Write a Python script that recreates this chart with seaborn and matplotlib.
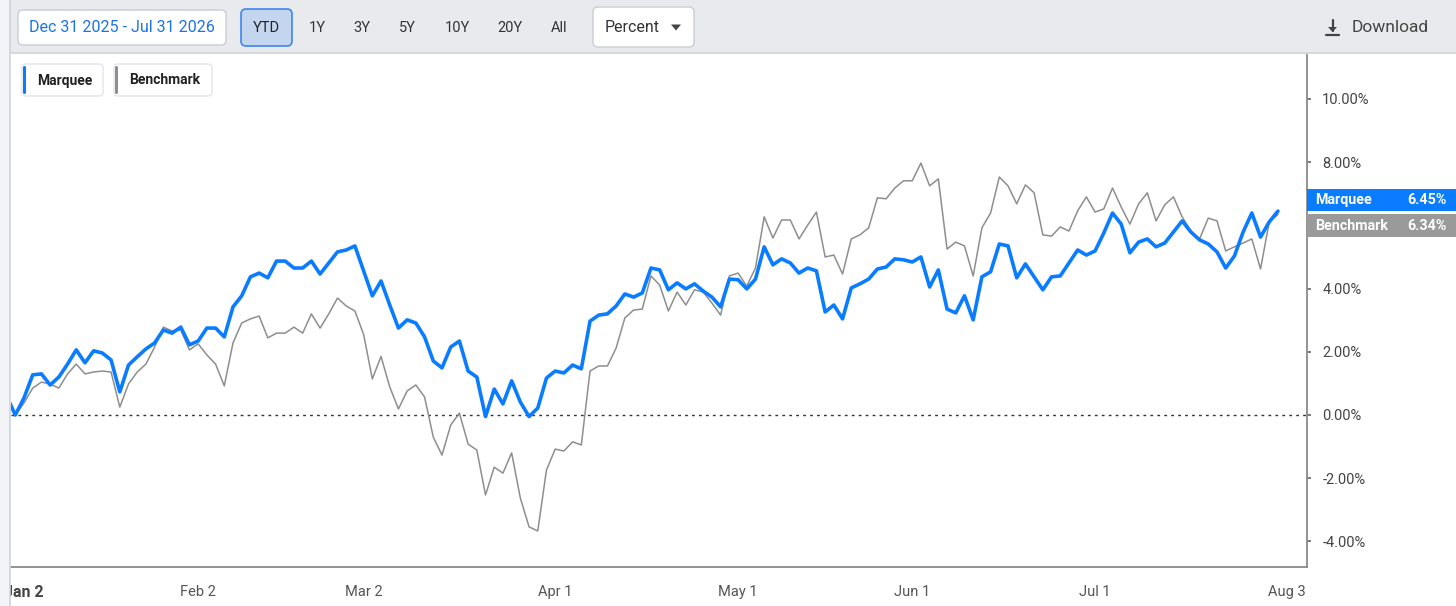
import numpy as np
import pandas as pd
import matplotlib
matplotlib.use("Agg")
import matplotlib.pyplot as plt
import matplotlib.transforms as mtrans
from matplotlib.patches import FancyBboxPatch, Rectangle, Polygon
from matplotlib.lines import Line2D
import seaborn as sns

# ---------------- data ----------------
start_date = "2025-12-30"
axis_end_date = "2026-08-03"
holidays = ["2026-01-01", "2026-01-19", "2026-02-16", "2026-04-03",
            "2026-05-25", "2026-06-19", "2026-07-03"]

marquee = [
    0.60, 0.00,
    0.54, 1.27, 1.30, 0.95, 1.20, 1.61, 2.06, 1.65, 2.03, 1.96,
    1.74, 0.73, 1.58, 1.84, 2.09, 2.28, 2.69, 2.59, 2.78, 2.22,
    2.34, 2.75, 2.75, 2.47, 3.42, 3.77, 4.37, 4.49, 4.34, 4.87,
    4.87, 4.65, 4.65, 4.87, 4.46, 4.81, 5.16, 5.22, 5.35, 4.56,
    3.77, 4.24, 3.48, 2.75, 3.01, 2.91, 2.47, 1.71, 1.49, 2.15,
    2.34, 1.39, 1.20, -0.05, 0.82, 0.35, 1.08, 0.41, -0.05, 0.22,
    1.17, 1.39, 1.33, 1.58, 1.46, 2.97, 3.16, 3.20, 3.45, 3.83,
    3.73, 3.86, 4.65, 4.59, 3.96, 4.18, 3.99, 4.15, 3.92, 3.73,
    3.42, 4.30, 4.28, 3.99, 4.30, 5.32, 4.75, 4.94, 4.81, 4.49,
    4.65, 4.56, 3.26, 3.48, 3.04, 4.02, 4.15, 4.30, 4.62, 4.68,
    4.94, 4.91, 4.84, 5.00, 4.05, 4.59, 3.35, 3.23, 3.77, 3.01,
    4.37, 4.53, 5.41, 5.35, 4.34, 4.78, 4.37, 3.96, 4.37, 4.40,
    4.81, 5.22, 5.06, 5.19, 5.76, 6.39, 6.04, 5.13, 5.47, 5.57,
    5.32, 5.44, 5.79, 6.14, 5.79, 5.54, 5.41, 5.16, 4.65, 5.03,
    5.79, 6.39, 5.63, 6.11, 6.45,
]

benchmark = [
    0.60, 0.00,
    0.38, 0.85, 1.04, 0.98, 0.85, 1.30, 1.61, 1.30, 1.36, 1.39,
    1.36, 0.25, 0.98, 1.36, 1.61, 2.15, 2.78, 2.66, 2.69, 2.06,
    2.25, 1.90, 1.61, 0.92, 2.28, 2.91, 3.04, 3.13, 2.44, 2.59,
    2.59, 2.78, 2.59, 3.20, 2.75, 3.20, 3.70, 3.45, 3.29, 2.55,
    1.14, 1.85, 0.89, 0.19, 0.76, 0.95, 0.57, -0.70, -1.27, -0.32,
    0.06, -0.92, -1.11, -2.53, -1.65, -1.84, -1.20, -2.63, -3.54, -3.67,
    -1.74, -1.08, -1.14, -0.85, -0.95, 1.39, 1.55, 1.55, 2.12, 3.07,
    3.32, 3.35, 4.40, 4.11, 3.29, 3.89, 3.48, 3.96, 3.89, 3.54,
    3.16, 4.40, 4.49, 4.08, 4.65, 6.27, 5.60, 6.17, 6.17, 5.57,
    6.01, 6.42, 5.00, 5.06, 4.46, 5.57, 5.70, 5.92, 6.87, 6.84,
    7.18, 7.41, 7.41, 7.97, 7.25, 7.47, 5.25, 5.47, 5.35, 4.40,
    5.92, 6.39, 7.53, 7.25, 6.68, 7.28, 7.03, 5.70, 5.66, 5.95,
    5.82, 6.46, 6.90, 6.42, 6.52, 7.18, 6.58, 6.04, 6.68, 7.03,
    6.14, 6.65, 6.90, 6.27, 5.82, 5.57, 6.23, 6.14, 5.19, 5.32,
    5.44, 5.57, 4.62, 6.11, 6.34,
]

tick_dates = ["2026-01-02", "2026-02-02", "2026-03-02", "2026-04-01",
              "2026-05-01", "2026-06-01", "2026-07-01", "2026-08-03"]
tick_labels = ["Jan 2", "Feb 2", "Mar 2", "Apr 1", "May 1", "Jun 1", "Jul 1", "Aug 3"]
y_ticks = [-4, -2, 0, 2, 4, 6, 8, 10]
series_names = ["Marquee", "Benchmark"]
series_colors = ["#0a7cff", "#8e8e8e"]
range_labels = ["1Y", "3Y", "5Y", "10Y", "20Y", "All"]

# ---------------- build table ----------------
dates = pd.bdate_range(start_date, axis_end_date, freq="C", holidays=holidays)
index_of = {d.strftime("%Y-%m-%d"): i for i, d in enumerate(dates)}
n = len(marquee)
df = pd.DataFrame({
    "x": np.r_[np.arange(n), np.arange(len(benchmark))],
    "value": marquee + benchmark,
    "series": [series_names[0]] * n + [series_names[1]] * len(benchmark),
})

# ---------------- figure ----------------
sns.set_style("white")
plt.rcParams["font.family"] = ["Roboto", "DejaVu Sans"]

W, H = 1456, 606
fig = plt.figure(figsize=(W / 100, H / 100), dpi=100)
fig.patch.set_facecolor("white")
PX = mtrans.IdentityTransform()


def fx(x):
    return x / W


def fy(y):
    return 1 - y / H


ax = fig.add_axes([fx(11), fy(567), fx(1307) - fx(11), fy(55) - fy(567)])
ax.set_facecolor("white")

sns.lineplot(data=df[df.series == series_names[1]], x="x", y="value",
             color=series_colors[1], linewidth=1.1, ax=ax, legend=False)
sns.lineplot(data=df[df.series == series_names[0]], x="x", y="value",
             color=series_colors[0], linewidth=2.6, ax=ax, legend=False)
ax.axhline(0, color="#333333", linewidth=1.0, linestyle=(0, (2, 3)), zorder=1)

jan2 = index_of["2026-01-02"]
ax.set_xlim(jan2 + (11 - 24) / 8.708, jan2 + (1307 - 24) / 8.708)
ax.set_ylim(-4.81, 11.39)
ax.set_xlabel("")
ax.set_ylabel("")

ax.set_xticks([index_of[d] for d in tick_dates])
ax.set_xticklabels(tick_labels)
ax.yaxis.tick_right()
ax.set_yticks(y_ticks)
ax.set_yticklabels([f"{v:.2f}%" for v in y_ticks])
ax.tick_params(axis="x", length=5, width=1, color="#777777", pad=8,
               labelsize=10.5, labelcolor="#555555", direction="out")
ax.tick_params(axis="y", length=3, width=1.2, color="#666666", pad=8,
               labelsize=10.5, labelcolor="#444444", direction="out")
ax.get_xticklabels()[0].set_fontweight("bold")
ax.get_xticklabels()[0].set_fontsize(11.5)
ax.get_xticklabels()[0].set_color("#444444")
# the 6.00% label sits under the last-value badges (as in the source), so hide it
for v, lab in zip(y_ticks, ax.get_yticklabels()):
    if v == 6:
        lab.set_visible(False)
for s in ["left", "top"]:
    ax.spines[s].set_visible(False)
for s in ["right", "bottom"]:
    ax.spines[s].set_visible(True)
    ax.spines[s].set_color("#8a8a8a")
    ax.spines[s].set_linewidth(1.3)

# ---------------- page chrome ----------------
def rbox(x0, y0, x1, y1, fc, ec, lw=1.0, r=5, z=6):
    p = FancyBboxPatch((x0, H - y1), x1 - x0, y1 - y0,
                       boxstyle=f"round,pad=0,rounding_size={r}",
                       transform=PX, facecolor=fc, edgecolor=ec,
                       linewidth=lw, zorder=z)
    fig.add_artist(p)
    return p


# toolbar band
fig.add_artist(Rectangle((0, H - 53), W, 53, transform=PX,
                         facecolor="#e9eaee", edgecolor="none", zorder=5))
fig.add_artist(Line2D([fx(10), 1], [fy(53), fy(53)], transform=fig.transFigure,
                      color="#cfd3da", linewidth=1.2, zorder=6))
# left strip
fig.add_artist(Rectangle((0, 0), 10, H, transform=PX,
                         facecolor="#f3f4f7", edgecolor="none", zorder=7))
fig.add_artist(Line2D([fx(10), fx(10)], [0, 1], transform=fig.transFigure,
                      color="#cfd3da", linewidth=1.2, zorder=8))

# date range box
rbox(18, 10, 226, 45, "white", "#c8cdd5")
fig.text(fx(122), fy(27.5), "Dec 31 2025 - Jul 31 2026", ha="center", va="center",
         fontsize=11.5, color="#1a73e8", zorder=9)
# YTD
rbox(241, 9, 292, 46, "#c4d6ef", "#3d86f0", lw=1.2)
fig.text(fx(266.5), fy(27.5), "YTD", ha="center", va="center",
         fontsize=10.5, color="#222222", zorder=9)
for lab, xc in zip(range_labels, [317, 362, 407, 457, 510, 559]):
    fig.text(fx(xc), fy(27.5), lab, ha="center", va="center",
             fontsize=10.5, color="#333333", zorder=9)
# Percent dropdown
rbox(593, 7, 694, 47, "white", "#c8cdd5")
fig.text(fx(605), fy(27.5), "Percent", ha="left", va="center",
         fontsize=11.5, color="#333333", zorder=9)
fig.add_artist(Polygon([[671, H - 24.5], [681, H - 24.5], [676, H - 30.5]],
                       closed=True, transform=PX, facecolor="#444444",
                       edgecolor="none", zorder=9))
# Download
fig.add_artist(Line2D([1326, 1339], [H - 35, H - 35], transform=PX,
                      color="#444444", linewidth=1.6, zorder=9))
fig.add_artist(Line2D([1332.5, 1332.5], [H - 20, H - 31], transform=PX,
                      color="#444444", linewidth=1.6, zorder=9))
fig.add_artist(Polygon([[1328, H - 27], [1337, H - 27], [1332.5, H - 32]],
                       closed=True, transform=PX, facecolor="#444444",
                       edgecolor="none", zorder=9))
fig.text(fx(1352), fy(28), "Download", ha="left", va="center",
         fontsize=12.5, color="#444444", zorder=9)

# legend chips
for (x0, x1, name, col) in [(22, 103, series_names[0], series_colors[0]),
                            (114, 212, series_names[1], series_colors[1])]:
    rbox(x0, 64, x1, 96, "white", "#e3e5e9", lw=1.0, r=4)
    rbox(x0 + 1, 66, x0 + 4, 94, col, "none", lw=0, r=1.5, z=7)
    fig.text(fx(x0 + 15), fy(80.5), name, ha="left", va="center",
             fontsize=10, fontweight="bold", color="#222222", zorder=9)

# last value labels on the right
for (y0, y1, name, col, vals) in [(189, 211, series_names[0], series_colors[0], marquee),
                                  (214, 237, series_names[1], "#9a9a9a", benchmark)]:
    fig.add_artist(Rectangle((1307, H - y1), W - 1307, y1 - y0, transform=PX,
                             facecolor=col, edgecolor="none", zorder=6))
    yc = (y0 + y1) / 2
    fig.text(fx(1315), fy(yc), name, ha="left", va="center", fontsize=10.3,
             fontweight="bold", color="white", zorder=9)
    fig.text(fx(1447), fy(yc), f"{vals[-1]:.2f}%", ha="right", va="center",
             fontsize=10.3, fontweight="bold", color="white", zorder=9)

fig.savefig("out.png", dpi=100, facecolor=fig.get_facecolor())
